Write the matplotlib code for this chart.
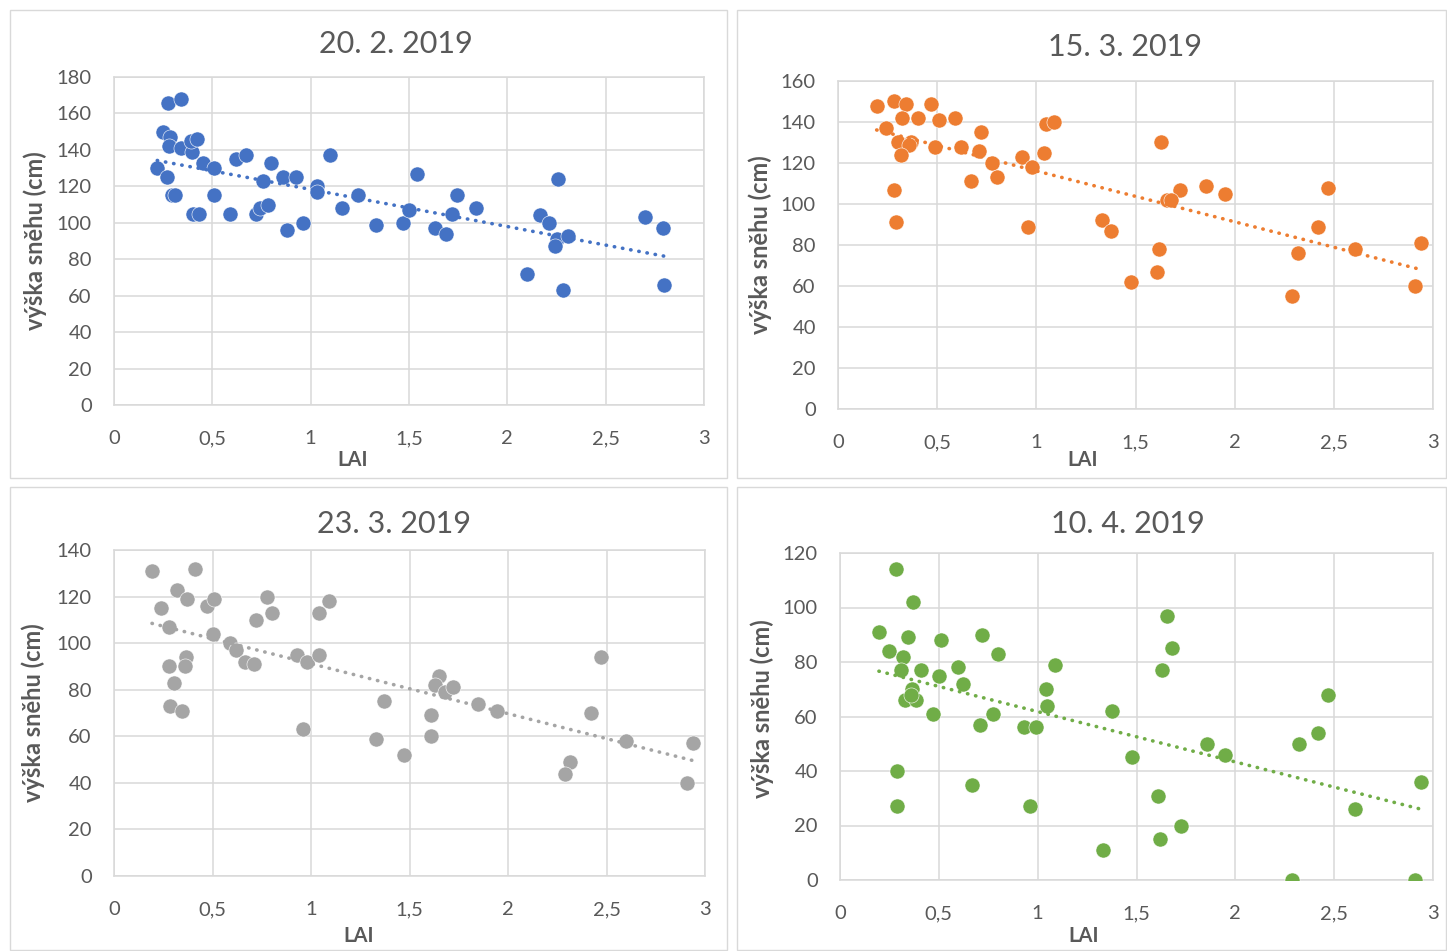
import numpy as np
import matplotlib
matplotlib.use("Agg")
import matplotlib.pyplot as plt
from matplotlib.patches import Rectangle
from matplotlib.ticker import FuncFormatter, MultipleLocator

plt.rcParams['font.family'] = ['Lato', 'DejaVu Sans']

# 20. 2. 2019
lai_1 = [0.22, 0.277, 0.34, 0.25, 0.285, 0.28, 0.34, 0.395, 0.39, 0.42, 0.27, 0.295, 0.31,
         0.40, 0.43, 0.45, 0.51, 0.51, 0.59, 0.62, 0.67, 0.72, 0.74, 0.785, 0.76, 0.80,
         0.86, 0.925, 0.88, 0.96, 1.03, 1.03, 1.10, 1.24, 1.16, 1.33, 1.47, 1.50, 1.54,
         1.63, 1.69, 1.72, 1.745, 1.84, 2.10, 2.26, 2.165, 2.21, 2.25, 2.24, 2.31, 2.285,
         2.70, 2.79, 2.795]
snow_1 = [130, 166, 168, 150, 147, 142, 141, 139, 145, 146, 125, 115, 115,
          105, 105, 133, 130, 115, 105, 135, 137, 105, 108, 110, 123, 133,
          125, 125, 96, 100, 120, 117, 137, 115, 108, 99, 100, 107, 127,
          97, 94, 105, 115, 108, 72, 124, 104, 100, 91, 87, 93, 63,
          103, 97, 66]

# 15. 3. 2019
lai_2 = [0.195, 0.28, 0.345, 0.47, 0.325, 0.405, 0.51, 0.59, 0.24, 0.30, 0.37, 0.36, 0.316,
         0.49, 0.62, 0.71, 0.72, 0.775, 0.80, 0.67, 0.93, 0.98, 1.04, 1.047, 1.09, 0.284,
         0.29, 0.96, 1.33, 1.375, 1.475, 1.63, 1.725, 1.66, 1.68, 1.855, 1.95, 1.62, 1.61,
         2.47, 2.42, 2.32, 2.29, 2.605, 2.94, 2.91]
snow_2 = [148, 150, 149, 149, 142, 142, 141, 142, 137, 130, 130, 129, 124,
          128, 128, 126, 135, 120, 113, 111, 123, 118, 125, 139, 140, 107,
          91, 89, 92, 87, 62, 130, 107, 102, 102, 109, 105, 78, 67,
          108, 89, 76, 55, 78, 81, 60]

# 23. 3. 2019
lai_3 = [0.193, 0.41, 0.32, 0.37, 0.24, 0.47, 0.51, 0.28, 0.50, 0.72, 0.775, 0.80, 0.59,
         0.62, 0.665, 0.71, 0.365, 0.36, 0.28, 0.305, 0.284, 0.344, 0.93, 0.98, 1.04,
         1.04, 1.09, 0.96, 1.37, 1.33, 1.47, 1.65, 1.63, 1.68, 1.72, 1.85, 1.945, 1.61,
         1.61, 2.47, 2.42, 2.315, 2.29, 2.60, 2.94, 2.91]
snow_3 = [131, 132, 123, 119, 115, 116, 119, 107, 104, 110, 120, 113, 100,
          97, 92, 91, 94, 90, 90, 83, 73, 71, 95, 92, 95,
          113, 118, 63, 75, 59, 52, 86, 82, 79, 81, 74, 71, 69,
          60, 94, 70, 49, 44, 58, 57, 40]

# 10. 4. 2019
lai_4 = [0.283, 0.37, 0.197, 0.345, 0.51, 0.72, 0.80, 0.246, 0.317, 0.31, 0.41, 0.595, 0.50,
         0.62, 1.09, 0.366, 0.33, 0.385, 0.36, 0.47, 0.775, 0.71, 0.93, 0.99, 1.04, 1.045,
         1.375, 0.287, 0.29, 0.67, 0.96, 1.33, 1.475, 1.655, 1.68, 1.63, 1.855, 1.95, 1.61,
         1.725, 1.62, 2.47, 2.42, 2.32, 2.605, 2.94, 2.286, 2.91]
snow_4 = [114, 102, 91, 89, 88, 90, 83, 84, 82, 77, 77, 78, 75,
          72, 79, 70, 66, 66, 68, 61, 61, 57, 56, 56, 70, 64,
          62, 40, 27, 35, 27, 11, 45, 97, 85, 77, 50, 46, 31,
          20, 15, 68, 54, 50, 26, 36, 0, 0]

titles = ["20. 2. 2019", "15. 3. 2019", "23. 3. 2019", "10. 4. 2019"]
colors = ["#4472C4", "#ED7D31", "#A5A5A5", "#70AD47"]
ymax = [180, 160, 140, 120]

W, H = 1447, 951
fig = plt.figure(figsize=(W / 100, H / 100), dpi=100)

# pixel layout: axes box (left, top, right, bottom), panel frame, title, xlabel, ylabel
axes_px = [(114, 77, 704, 405), (838, 81, 1433, 409), (114, 550, 705, 876), (840, 553, 1433, 880)]
frames_px = [(10, 10, 727, 478), (737, 10, 1446, 478), (10, 487, 727, 950), (737, 487, 1446, 950)]
title_px = [(396, 44), (1125, 47), (394, 524), (1128, 524)]
xlab_px = [(353, 460), (1083, 460), (359, 936), (1084, 936)]
ylab_px = [(35, 241), (760, 245), (33, 713), (762, 709)]

grey_txt = "#595959"
comma = FuncFormatter(lambda v, p: f"{v:g}".replace('.', ','))

data = [(lai_1, snow_1), (lai_2, snow_2), (lai_3, snow_3), (lai_4, snow_4)]

for i, (x, y) in enumerate(data):
    fl, ft, fr, fb = frames_px[i]
    fig.patches.append(Rectangle((fl / W, 1 - fb / H), (fr - fl) / W, (fb - ft) / H,
                                 transform=fig.transFigure, fill=False,
                                 edgecolor="#d9d9d9", linewidth=1))

    l, t, r, b = axes_px[i]
    ax = fig.add_axes([l / W, 1 - b / H, (r - l) / W, (b - t) / H])
    ax.set_xlim(0, 3)
    ax.set_ylim(0, ymax[i])
    ax.xaxis.set_major_locator(MultipleLocator(0.5))
    ax.yaxis.set_major_locator(MultipleLocator(20))
    ax.xaxis.set_major_formatter(comma)
    ax.grid(True, color="#d9d9d9", linewidth=1.1)
    ax.set_axisbelow(True)
    for s in ax.spines.values():
        s.set_color("#d9d9d9")
        s.set_linewidth(1.1)
    ax.tick_params(length=0, labelsize=14.5, labelcolor=grey_txt)
    ax.tick_params(axis='y', pad=16)
    ax.tick_params(axis='x', pad=18)

    ax.scatter(x, y, s=118, color=colors[i], edgecolors='white', linewidths=0.4, zorder=3)

    # linear trend line
    k, q = np.polyfit(x, y, 1)
    xs = np.array([min(x), max(x)])
    ax.plot(xs, k * xs + q, color=colors[i], linewidth=2.6,
            linestyle=(0, (0.1, 2.2)), dash_capstyle='round', zorder=4)

    fig.text(title_px[i][0] / W, 1 - title_px[i][1] / H, titles[i], ha='center', va='center',
             fontsize=22, color=grey_txt)
    fig.text(xlab_px[i][0] / W, 1 - xlab_px[i][1] / H, "LAI", ha='center', va='center',
             fontsize=14.5, fontweight='bold', color=grey_txt)
    fig.text(ylab_px[i][0] / W, 1 - ylab_px[i][1] / H, "výška sněhu (cm)", ha='center', va='center',
             rotation=90, fontsize=17, fontweight='bold', color=grey_txt)

fig.savefig("out.png", dpi=100)
